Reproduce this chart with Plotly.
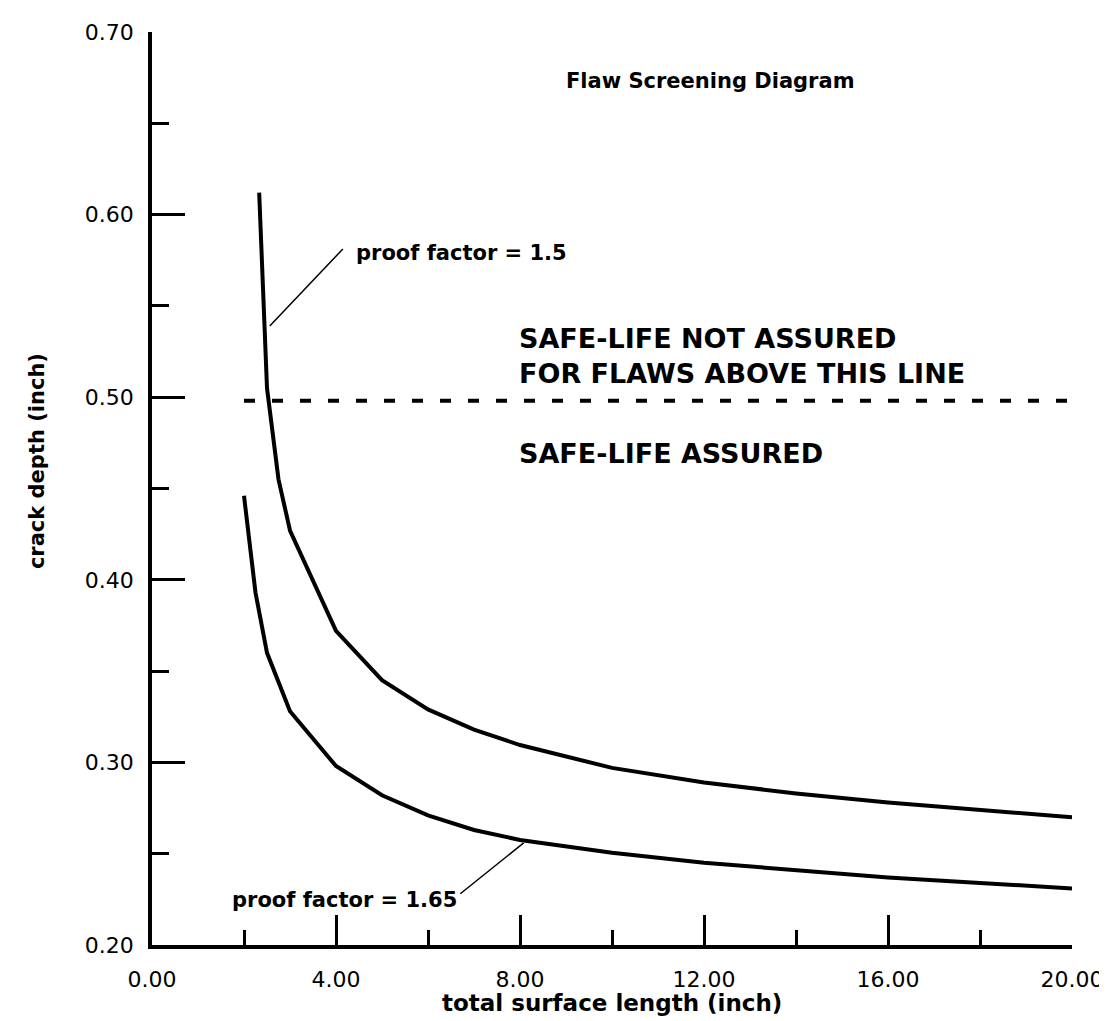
import plotly.graph_objects as go

# proof factor = 1.5
pf150_x = [2.33, 2.5, 2.75, 3, 4, 5, 6, 7, 8, 10, 12, 14, 16, 18, 20]
pf150_y = [0.612, 0.505, 0.455, 0.427, 0.372, 0.345, 0.329, 0.318, 0.3095,
           0.297, 0.289, 0.283, 0.278, 0.274, 0.270]

# proof factor = 1.65
pf165_x = [2, 2.25, 2.5, 3, 4, 5, 6, 7, 8, 10, 12, 14, 16, 18, 20]
pf165_y = [0.446, 0.393, 0.360, 0.328, 0.298, 0.282, 0.271, 0.263, 0.2575,
           0.2505, 0.245, 0.241, 0.237, 0.234, 0.231]

# safe-life limit line
limit_x = [2.0, 20.35]
limit_y = [0.498, 0.498]

x_ticks = [0, 4, 8, 12, 16, 20]
y_ticks = [0.2, 0.3, 0.4, 0.5, 0.6, 0.7]

FONT = "DejaVu Sans"

fig = go.Figure()
fig.add_trace(go.Scatter(x=pf150_x, y=pf150_y, mode="lines",
                         line=dict(color="black", width=4), cliponaxis=False))
fig.add_trace(go.Scatter(x=pf165_x, y=pf165_y, mode="lines",
                         line=dict(color="black", width=4), cliponaxis=False))
fig.add_trace(go.Scatter(x=limit_x, y=limit_y, mode="lines",
                         line=dict(color="black", width=4, dash="11px,17px"),
                         cliponaxis=False))

fig.update_xaxes(
    range=[0, 20], tickvals=x_ticks, ticktext=["%.2f" % v for v in x_ticks],
    ticks="inside", ticklen=30, tickwidth=3, tickcolor="black",
    showline=True, linewidth=3.5, linecolor="black", showgrid=False,
    zeroline=False, ticklabelstandoff=12,
    tickfont=dict(family=FONT, size=22, color="black"),
    minor=dict(dtick=2, ticks="inside", ticklen=15, tickwidth=3,
               tickcolor="black", showgrid=False),
)
fig.update_yaxes(
    range=[0.2, 0.7], tickvals=y_ticks, ticktext=["%.2f" % v for v in y_ticks],
    ticks="inside", ticklen=33, tickwidth=3, tickcolor="black",
    showline=True, linewidth=3.5, linecolor="black", showgrid=False,
    zeroline=False, ticklabelstandoff=10,
    tickfont=dict(family=FONT, size=22, color="black"),
    minor=dict(dtick=0.05, ticks="inside", ticklen=17, tickwidth=3,
               tickcolor="black", showgrid=False),
)

bold = dict(family=FONT, color="black", weight="bold")
notes = [
    dict(x=12.15, y=0.673, text="Flaw Screening Diagram", size=21, xanchor="center"),
    dict(x=4.40, y=0.579, text="proof factor = 1.5", size=21, xanchor="left"),
    dict(x=1.69, y=0.2247, text="proof factor = 1.65", size=21, xanchor="left"),
    dict(x=7.93, y=0.5226, text="SAFE-LIFE NOT ASSURED<br>FOR FLAWS ABOVE THIS LINE",
         size=27, xanchor="left"),
    dict(x=7.93, y=0.469, text="SAFE-LIFE ASSURED", size=27, xanchor="left"),
]
for n in notes:
    fig.add_annotation(x=n["x"], y=n["y"], text=n["text"], showarrow=False,
                       xanchor=n["xanchor"], yanchor="middle", align="left",
                       font=dict(size=n["size"], **bold))

# axis titles placed by hand, as in the original drawing
fig.add_annotation(x=0.5, y=-0.064, xref="paper", yref="paper",
                   xanchor="center", yanchor="middle",
                   text="total surface length (inch)", showarrow=False,
                   font=dict(size=23, **bold))
fig.add_annotation(x=-0.125, y=0.53, xref="paper", yref="paper",
                   xanchor="center", yanchor="middle",
                   text="crack depth (inch)", textangle=-90, showarrow=False,
                   font=dict(size=21, **bold))

# leader lines to the curves
for tip, tail in [((2.56, 0.539), (4.18, 0.582)), ((8.08, 0.2559), (6.67, 0.2274))]:
    fig.add_annotation(x=tip[0], y=tip[1], ax=tail[0], ay=tail[1],
                       axref="x", ayref="y", text="", showarrow=True,
                       arrowhead=0, arrowwidth=1.5, arrowcolor="black")

fig.update_layout(
    width=1107, height=1021, showlegend=False,
    margin=dict(l=144, r=40, t=14, b=84),
    paper_bgcolor="white", plot_bgcolor="white",
)

fig.write_html("out.html")
